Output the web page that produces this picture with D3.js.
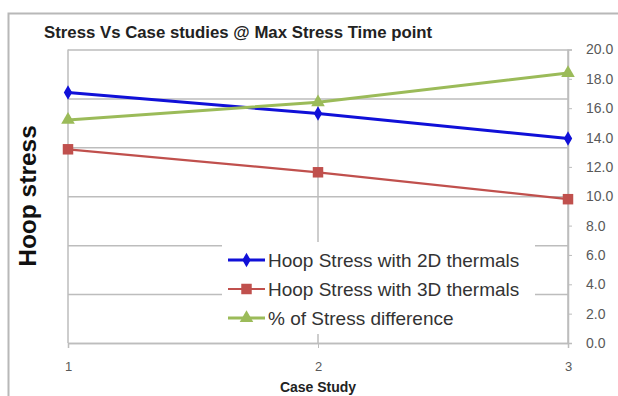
<!DOCTYPE html>
<html>
<head>
<meta charset="utf-8">
<script src="https://cdn.jsdelivr.net/npm/d3@7"></script>
<style>
  body { margin: 0; background: #fff; }
  svg { display: block; }
  .tick text { font-family: "Liberation Sans", Arial, sans-serif; }
</style>
</head>
<body>
<svg></svg>
<script>
var width = 618;
var height = 396;

// data
var caseStudies = [1, 2, 3];
var hoop2D = [512, 469, 418];      // primary axis (hidden labels)
var hoop3D = [396, 349, 294];      // primary axis (hidden labels)
var stressDiff = [15.2, 16.4, 18.4]; // secondary axis (right, %)
var rightTicks = [0, 2, 4, 6, 8, 10, 12, 14, 16, 18, 20];
var seriesNames = ["Hoop Stress with 2D thermals", "Hoop Stress with 3D thermals", "% of Stress difference"];

var margin = {left: 68, right: 50, top: 49.5, bottom: 53};
var plotW = width - margin.left - margin.right;
var plotH = height - margin.top - margin.bottom;

var svg = d3.select("svg")
    .attr("width", width)
    .attr("height", height);

// outer chart border
svg.append("rect")
    .attr("x", 8.5).attr("y", 13.5)
    .attr("width", 640).attr("height", 420)
    .attr("fill", "none")
    .attr("stroke", "#b8b8b8")
    .attr("stroke-width", 2);

var x = d3.scaleLinear().domain([1, 3]).range([0, plotW]);
var y = d3.scaleLinear().domain([0, 600]).range([plotH, 0]);
var y2 = d3.scaleLinear().domain([0, 20]).range([plotH, 0]);

var g = svg.append("g")
    .attr("transform", "translate(" + margin.left + "," + margin.top + ")");

// horizontal gridlines from the hidden primary axis
g.append("g")
    .attr("class", "grid")
    .call(d3.axisLeft(y).ticks(6).tickSize(-plotW).tickFormat(""))
    .call(function(s) {
        s.select(".domain").remove();
        s.selectAll("line").attr("stroke", "#bdbdbd").attr("stroke-width", 1.5);
    });

// vertical gridlines
g.append("g")
    .selectAll("line")
    .data(caseStudies)
    .enter().append("line")
    .attr("x1", function(d) { return x(d); })
    .attr("x2", function(d) { return x(d); })
    .attr("y1", 0)
    .attr("y2", plotH)
    .attr("stroke", "#bdbdbd")
    .attr("stroke-width", 1.5);

// bottom axis
g.append("g")
    .attr("transform", "translate(0," + plotH + ")")
    .call(d3.axisBottom(x).tickValues(caseStudies).tickFormat(d3.format("d")).tickSize(5).tickPadding(14))
    .call(function(s) {
        s.select(".domain").attr("stroke", "#bdbdbd").attr("stroke-width", 1.5);
        s.selectAll("line").attr("stroke", "#bdbdbd");
        s.selectAll("text").attr("fill", "#595959").style("font-size", "13px");
    });

// right axis
g.append("g")
    .attr("transform", "translate(" + plotW + ",0)")
    .call(d3.axisRight(y2).tickValues(rightTicks).tickFormat(d3.format(".1f")).tickSize(4).tickPadding(14))
    .call(function(s) {
        s.select(".domain").attr("stroke", "#bdbdbd").attr("stroke-width", 1.5);
        s.selectAll("line").attr("stroke", "#bdbdbd");
        s.selectAll("text").attr("fill", "#595959").style("font-size", "14px");
    });

// legend background (covers gridlines)
var legend = g.append("g")
    .attr("transform", "translate(" + (222 - margin.left) + "," + (242 - margin.top) + ")");
legend.append("rect")
    .attr("width", 313).attr("height", 92)
    .attr("fill", "#fff");

var series = [
    {name: seriesNames[0], values: hoop2D, scale: y, color: "#1010d8", width: 3, symbol: d3.symbolDiamond, size: 60},
    {name: seriesNames[1], values: hoop3D, scale: y, color: "#c0504d", width: 2.2, symbol: d3.symbolSquare, size: 110},
    {name: seriesNames[2], values: stressDiff, scale: y2, color: "#9bbb59", width: 3, symbol: d3.symbolTriangle, size: 80}
];

series.forEach(function(s) {
    var line = d3.line()
        .x(function(d, i) { return x(caseStudies[i]); })
        .y(function(d) { return s.scale(d); });
    g.append("path")
        .datum(s.values)
        .attr("fill", "none")
        .attr("stroke", s.color)
        .attr("stroke-width", s.width)
        .attr("d", line);
    g.append("g")
        .selectAll("path")
        .data(s.values)
        .enter().append("path")
        .attr("d", d3.symbol().type(s.symbol).size(s.size))
        .attr("transform", function(d, i) {
            return "translate(" + x(caseStudies[i]) + "," + s.scale(d) + ")";
        })
        .attr("fill", s.color);
});

// legend entries
series.forEach(function(s, i) {
    var row = legend.append("g")
        .attr("transform", "translate(6," + (18 + i * 29) + ")");
    row.append("line")
        .attr("x1", 0).attr("x2", 37)
        .attr("stroke", s.color)
        .attr("stroke-width", s.width);
    row.append("path")
        .attr("d", d3.symbol().type(s.symbol).size(s.size))
        .attr("transform", "translate(18.5,0)")
        .attr("fill", s.color);
    row.append("text")
        .attr("x", 40)
        .attr("dy", "0.36em")
        .attr("fill", "#333")
        .style("font-family", "'Liberation Sans', Arial, sans-serif")
        .style("font-size", "19px")
        .text(s.name);
});

// title
svg.append("text")
    .attr("x", 44)
    .attr("y", 38)
    .attr("fill", "#222")
    .style("font-family", "'Liberation Sans', Arial, sans-serif")
    .style("font-weight", "bold")
    .style("font-size", "16.8px")
    .text("Stress Vs Case studies @ Max Stress Time point");

// y axis title
svg.append("text")
    .attr("transform", "translate(36,196) rotate(-90)")
    .attr("text-anchor", "middle")
    .attr("fill", "#111")
    .style("font-family", "'Liberation Sans', Arial, sans-serif")
    .style("font-weight", "bold")
    .style("font-size", "24.5px")
    .text("Hoop stress");

// x axis title
svg.append("text")
    .attr("x", margin.left + plotW / 2)
    .attr("y", 392)
    .attr("text-anchor", "middle")
    .attr("fill", "#222")
    .style("font-family", "'Liberation Sans', Arial, sans-serif")
    .style("font-weight", "bold")
    .style("font-size", "14px")
    .text("Case Study");
</script>
</body>
</html>
